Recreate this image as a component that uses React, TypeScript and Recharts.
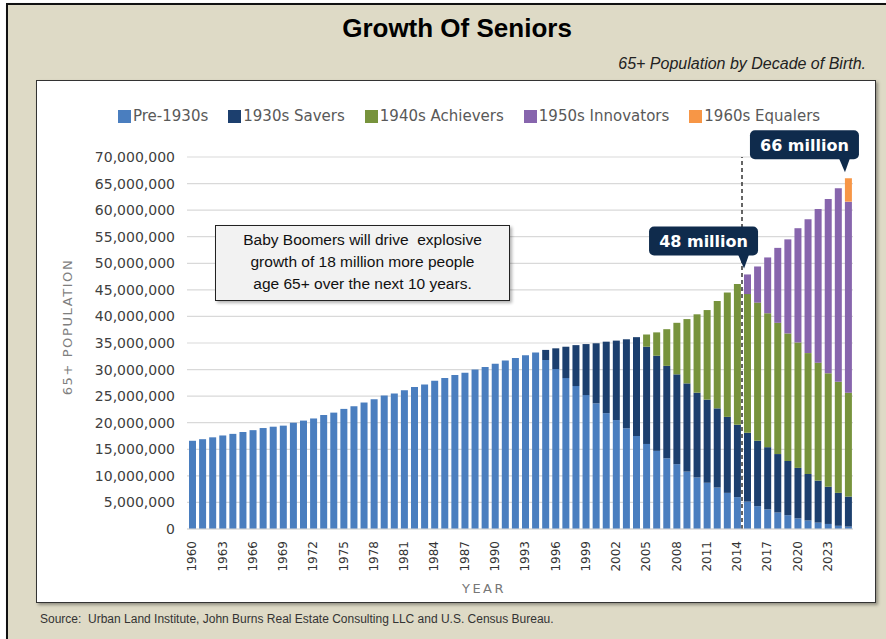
import { BarChart, Bar, XAxis, YAxis, CartesianGrid, ReferenceLine, ReferenceDot } from 'recharts'

// values in millions of people aged 65+
const YEARS = [
  1960, 1961, 1962, 1963, 1964, 1965, 1966, 1967, 1968, 1969,
  1970, 1971, 1972, 1973, 1974, 1975, 1976, 1977, 1978, 1979,
  1980, 1981, 1982, 1983, 1984, 1985, 1986, 1987, 1988, 1989,
  1990, 1991, 1992, 1993, 1994, 1995, 1996, 1997, 1998, 1999,
  2000, 2001, 2002, 2003, 2004, 2005, 2006, 2007, 2008, 2009,
  2010, 2011, 2012, 2013, 2014, 2015, 2016, 2017, 2018, 2019,
  2020, 2021, 2022, 2023, 2024, 2025,
]

// 1960 onward
const PRE_1930S = [
  16.6, 16.9, 17.25, 17.6, 17.9, 18.25, 18.6, 19.0, 19.25, 19.45,
  20.0, 20.4, 20.8, 21.45, 21.9, 22.6, 23.1, 23.8, 24.4, 25.1,
  25.5, 26.1, 26.7, 27.2, 27.9, 28.4, 29.0, 29.4, 30.0, 30.5,
  31.1, 31.7, 32.2, 32.7, 33.2, 31.8, 30.1, 28.4, 26.9, 25.2,
  23.65, 21.8, 20.5, 18.95, 17.5, 16.0, 14.7, 13.3, 12.2, 10.8,
  9.7, 8.7, 7.8, 6.8, 6.0, 5.15, 4.3, 3.7, 3.1, 2.6,
  2.0, 1.6, 1.2, 0.95, 0.6, 0.45,
]
// 1995 onward
const SAVERS_1930S = [
  1.9, 3.9, 5.9, 7.7, 9.6, 11.3, 13.45, 14.95, 16.75, 18.6,
  18.3, 17.9, 17.4, 16.9, 16.6, 15.95, 15.65, 14.9, 14.3, 13.6,
  12.95, 12.3, 11.7, 11.0, 10.2, 9.5, 8.75, 7.9, 7.0, 6.2, 5.65,
]
// 2005 onward
const ACHIEVERS_1940S = [
  2.3, 4.4, 6.9, 9.7, 12.1, 14.75, 16.85, 20.2, 23.4, 26.5,
  26.1, 26.0, 25.2, 24.7, 24.0, 23.6, 22.75, 22.2, 21.35, 20.9, 19.55,
]
// 2015 onward
const INNOVATORS_1950S = [3.7, 6.8, 10.5, 14.1, 17.7, 21.5, 25.2, 28.9, 32.8, 36.4, 35.95]
// 2025 onward
const EQUALERS_1960S = [4.4]

const Y_TICKS = [
  0, 5000000, 10000000, 15000000, 20000000, 25000000, 30000000, 35000000,
  40000000, 45000000, 50000000, 55000000, 60000000, 65000000, 70000000,
]

const SERIES = [
  { key: 'pre', name: 'Pre-1930s', color: '#4a7ebf', start: 1960, values: PRE_1930S },
  { key: 's30', name: '1930s Savers', color: '#1c3f6e', start: 1995, values: SAVERS_1930S },
  { key: 's40', name: '1940s Achievers', color: '#77933c', start: 2005, values: ACHIEVERS_1940S },
  { key: 's50', name: '1950s Innovators', color: '#8765ad', start: 2015, values: INNOVATORS_1950S },
  { key: 's60', name: '1960s Equalers', color: '#f79646', start: 2025, values: EQUALERS_1960S },
]

const CALLOUTS = [
  { year: '2015', text: '48 million' },
  { year: '2025', text: '66 million' },
]

const NOTE_LINES = [
  'Baby Boomers will drive  explosive',
  'growth of 18 million more people',
  'age 65+ over the next 10 years.',
]

const data = YEARS.map((year) => {
  const row: Record<string, number | string> = { year: String(year) }
  let total = 0
  SERIES.forEach((s) => {
    const v = year >= s.start ? s.values[year - s.start] ?? 0 : 0
    row[s.key] = v * 1e6
    total += v * 1e6
  })
  row.total = total
  return row
})

const totalFor = (year: string) => Number(data.find((d) => d.year === year)?.total ?? 0)

const FONT = '"DejaVu Sans", sans-serif'
const ARIAL = '"Liberation Sans", Arial, sans-serif'

function YearTick({ x, y, payload }: any) {
  return (
    <text
      x={x}
      y={y}
      transform={`rotate(-90, ${x}, ${y})`}
      textAnchor="end"
      dy="0.35em"
      fontSize={12}
      fontFamily={FONT}
      fill="#333"
    >
      {payload.value}
    </text>
  )
}

function Callout({ cx, cy, text }: any) {
  const tipX = cx - 3
  const tipY = cy - 6
  const right = tipX + 14
  const w = 109
  const h = 29
  const bottom = tipY - 13
  const top = bottom - h
  const left = right - w
  return (
    <g>
      <rect x={left} y={top} width={w} height={h} rx={5} fill="#0f2b4c" />
      <path d={`M${tipX - 6},${bottom - 1} L${tipX + 5},${bottom - 1} L${tipX},${tipY} Z`} fill="#0f2b4c" />
      <text
        x={left + w / 2}
        y={top + h / 2}
        dy="0.36em"
        textAnchor="middle"
        fill="#fff"
        fontSize={16}
        fontWeight="bold"
        fontFamily={FONT}
      >
        {text}
      </text>
    </g>
  )
}

export default function App() {
  return (
    <div style={{ position: 'absolute', left: 0, top: 0, width: 886, height: 639, background: '#fff', overflow: 'hidden' }}>
      <div
        style={{
          position: 'absolute',
          left: 6,
          top: 3,
          width: 920,
          height: 700,
          border: '2px solid #111',
          background: '#dedac6',
          boxShadow: '1px 1px 2px rgba(0,0,0,0.3)',
        }}
      />
      <div
        style={{
          position: 'absolute',
          left: 0,
          top: 13,
          width: 914,
          textAlign: 'center',
          fontFamily: ARIAL,
          fontWeight: 'bold',
          fontSize: 26,
          lineHeight: '30px',
          color: '#000',
        }}
      >
        Growth Of Seniors
      </div>
      <div
        style={{
          position: 'absolute',
          right: 20,
          top: 55,
          fontFamily: ARIAL,
          fontStyle: 'italic',
          fontSize: 16,
          lineHeight: '18px',
          color: '#222',
        }}
      >
        65+ Population by Decade of Birth.
      </div>
      <div
        style={{
          position: 'absolute',
          left: 36,
          top: 80,
          width: 840,
          height: 523,
          boxSizing: 'border-box',
          border: '1.5px solid #333',
          background: '#fff',
          boxShadow: '2px 2px 3px rgba(0,0,0,0.35)',
        }}
      />
      <div
        style={{
          position: 'absolute',
          left: 40,
          top: 612,
          fontFamily: ARIAL,
          fontSize: 12,
          lineHeight: '14px',
          color: '#333',
          whiteSpace: 'pre',
        }}
      >
        Source:  Urban Land Institute, John Burns Real Estate Consulting LLC and U.S. Census Bureau.
      </div>

      <div style={{ position: 'absolute', left: 0, top: 0 }}>
        <BarChart
          width={886}
          height={639}
          data={data}
          margin={{ top: 157, right: 33, bottom: 50, left: 0 }}
          barSize={7}
        >
          <CartesianGrid vertical={false} stroke="#d9d9d9" strokeWidth={1.2} />
          <XAxis
            dataKey="year"
            interval={2}
            height={60}
            tickSize={6}
            tickMargin={6}
            tickLine={false}
            axisLine={{ stroke: '#d9d9d9' }}
            tick={<YearTick />}
            label={{
              content: ({ viewBox }: any) => (
                <text
                  x={viewBox.x + viewBox.width / 2 - 36}
                  y={viewBox.y + 64}
                  textAnchor="middle"
                  fontSize={13}
                  letterSpacing={2.5}
                  fontFamily={FONT}
                  fill="#777"
                >
                  YEAR
                </text>
              ),
            }}
          />
          <YAxis
            width={187}
            domain={[0, 70000000]}
            ticks={Y_TICKS}
            tickSize={6}
            tickMargin={6}
            tickLine={false}
            axisLine={false}
            tickFormatter={(v: number) => v.toLocaleString('en-US')}
            tick={{ fontSize: 14, fontFamily: FONT, fill: '#404040' }}
            label={{
              content: ({ viewBox }: any) => {
                const cy = viewBox.y + viewBox.height / 2 - 16
                return (
                  <text
                    x={67}
                    y={cy}
                    transform={`rotate(-90, 67, ${cy})`}
                    textAnchor="middle"
                    dy="0.35em"
                    fontSize={13}
                    letterSpacing={1.6}
                    fontFamily={FONT}
                    fill="#7f7f7f"
                  >
                    65+ POPULATION
                  </text>
                )
              },
            }}
          />
          {SERIES.map((s) => (
            <Bar key={s.key} dataKey={s.key} name={s.name} stackId="a" fill={s.color} isAnimationActive={false} />
          ))}
          <ReferenceLine x="2015" position="start" stroke="#333" strokeWidth={1.5} strokeDasharray="4 3" />
          {CALLOUTS.map((c) => (
            <ReferenceDot
              key={c.year}
              x={c.year}
              y={totalFor(c.year)}
              r={0}
              shape={(p: any) => <Callout cx={p.cx} cy={p.cy} text={c.text} />}
            />
          ))}
        </BarChart>
      </div>

      <div
        style={{
          position: 'absolute',
          left: 118,
          top: 108,
          display: 'flex',
          gap: 20,
          fontFamily: FONT,
          fontSize: 15,
          lineHeight: '16px',
          color: '#595959',
          whiteSpace: 'nowrap',
        }}
      >
        {SERIES.map((s) => (
          <div key={s.key} style={{ display: 'flex', alignItems: 'center' }}>
            <span style={{ display: 'inline-block', width: 13, height: 13, background: s.color, marginRight: 2 }} />
            {s.name}
          </div>
        ))}
      </div>

      <div
        style={{
          position: 'absolute',
          left: 215,
          top: 225,
          width: 295,
          height: 76,
          boxSizing: 'border-box',
          paddingTop: 3,
          border: '1.5px solid #222',
          background: '#f2f2f2',
          boxShadow: '2px 2px 3px rgba(0,0,0,0.3)',
          textAlign: 'center',
          fontFamily: ARIAL,
          fontSize: 15.5,
          lineHeight: '22px',
          color: '#111',
          whiteSpace: 'pre',
        }}
      >
        {NOTE_LINES.map((l) => (
          <div key={l}>{l}</div>
        ))}
      </div>
    </div>
  )
}
